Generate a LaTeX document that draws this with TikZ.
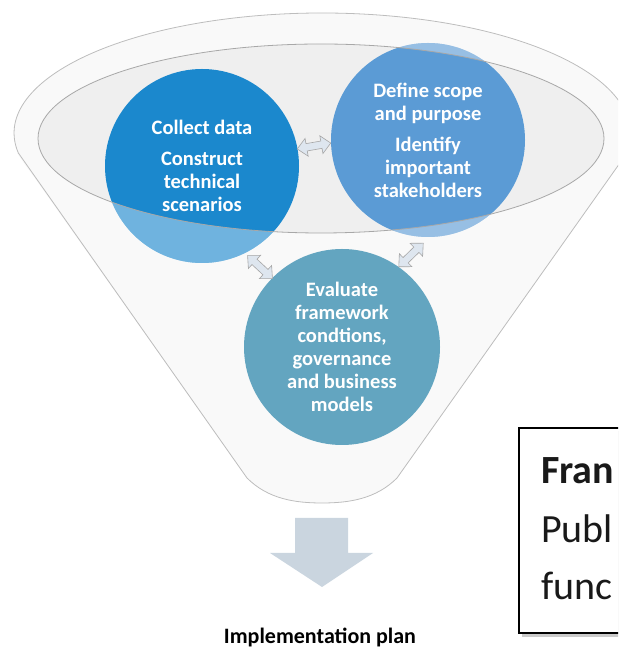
\documentclass[tikz,border=0pt]{standalone}
\usepackage{fontspec}
\setmainfont{Carlito}
\definecolor{funnelfill}{HTML}{F9F9F9}
\definecolor{funneldraw}{HTML}{BDBDBD}
\definecolor{innerfill}{HTML}{EFEFEF}
\definecolor{innerdraw}{HTML}{A8A8A8}
\definecolor{cola}{RGB}{27,136,205}
\definecolor{colb}{RGB}{91,155,213}
\definecolor{colc}{RGB}{99,165,192}
\definecolor{arrowfill}{HTML}{DEE6EF}
\definecolor{arrowdraw}{HTML}{A6A6A6}
\definecolor{downfill}{HTML}{CAD5DF}
\tikzset{
  stepcircle/.style={circle, minimum size=#1, inner sep=0pt, text=white,
    font=\bfseries\fontsize{20.5}{23}\selectfont, align=center},
  dblarrow/.pic={\path[fill=arrowfill, draw=arrowdraw, line width=0.6pt]
    (-17,0) -- (-7.5,9) -- (-7.5,3.7) -- (7.5,3.7) -- (7.5,9) -- (17,0)
    -- (7.5,-9) -- (7.5,-3.7) -- (-7.5,-3.7) -- (-7.5,-9) -- cycle;},
  boxtext/.style={anchor=base west, inner sep=0pt, font=\fontsize{40}{48}\selectfont, text=black!90}
}
\begin{document}
\begin{tikzpicture}[x=1pt,y=1pt]
\useasboundingbox (0,0) rectangle (618,647);
\clip (0,0) rectangle (618,647);
% funnel body
\fill[funnelfill] (322,514) ellipse [x radius=308, y radius=120];
\fill[funnelfill] (17,494) -- (247,169) .. controls (268,148) and (295,144) .. (322,144)
  .. controls (349,144) and (376,148) .. (397,169) -- (627,494) -- cycle;
\draw[funneldraw, line width=0.8pt] (625.7,494) arc[start angle=-9.6, end angle=189.6, x radius=308, y radius=120]
  -- (247,169) .. controls (268,148) and (295,144) .. (322,144)
  .. controls (349,144) and (376,148) .. (397,169) -- (627,494);
% inner ellipse
\fill[innerfill] (321,508.5) ellipse [x radius=283, y radius=94.5];
% circles
\node[stepcircle=194pt, fill=cola] (collect) at (202,481) {Collect data\\[8pt]Construct\\technical\\scenarios};
\node[stepcircle=194pt, fill=colb] (define) at (428,507) {Define scope\\and purpose\\[8pt]Identify\\important\\stakeholders};
\node[stepcircle=196pt, fill=colc] (evaluate) at (342,300) {Evaluate\\framework\\condtions,\\governance\\and business\\models};
% lighter parts outside the inner ellipse
\begin{scope}
\clip (202,481) circle (97);
\fill[white, opacity=.37, even odd rule] (0,0) rectangle (618,647) (321,508.5) ellipse [x radius=283, y radius=94.5];
\end{scope}
\begin{scope}
\clip (428,507) circle (97);
\fill[white, opacity=.37, even odd rule] (0,0) rectangle (618,647) (321,508.5) ellipse [x radius=283, y radius=94.5];
\end{scope}
\draw[innerdraw, line width=0.8pt] (321,508.5) ellipse [x radius=283, y radius=94.5];
% double arrows between circles
\pic[rotate=10] (ab) at (314,501) {dblarrow};
\pic[rotate=-43] (ac) at (260,380) {dblarrow};
\pic[rotate=44] (bc) at (411,392) {dblarrow};
% down arrow
\fill[downfill] (295,129) -- (348,129) -- (348,94) -- (373,94) -- (322,60) -- (270,94) -- (295,94) -- cycle;
\node[anchor=base, inner sep=0pt, font=\bfseries\fontsize{22}{26}\selectfont] (plan) at (320,4) {Implementation plan};
% box (continues past the right edge)
\fill[black!35, opacity=.6] (522,10) rectangle (640,216);
\fill[white] (519,14) rectangle (640,219);
\draw[line width=1.4pt] (640,219) -- (519,219) -- (519,14) -- (640,14);
\node[boxtext, font=\bfseries\fontsize{40}{48}\selectfont] (t1) at (541,163) {Fran};
\node[boxtext] (t2) at (541,104) {Publ};
\node[boxtext] (t3) at (541,47) {func};
\end{tikzpicture}
\end{document}
